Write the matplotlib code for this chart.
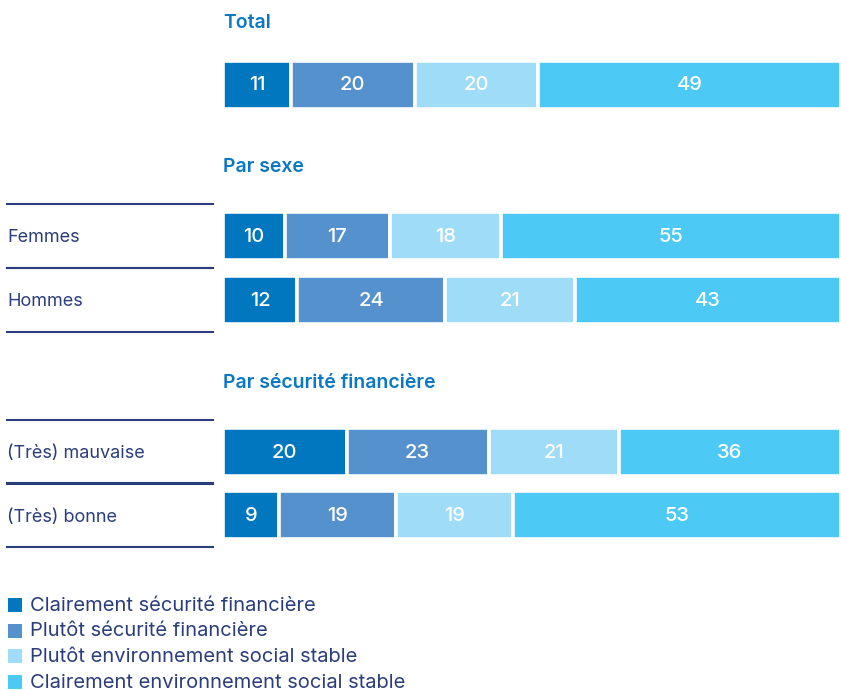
import matplotlib.pyplot as plt
from matplotlib.lines import Line2D
from matplotlib.patches import Rectangle

plt.rcParams['font.family'] = ['Inter', 'DejaVu Sans']

W, H = 841, 690

categories = ['Total', 'Femmes', 'Hommes', '(Très) mauvaise', '(Très) bonne']
series_names = ['Clairement sécurité financière', 'Plutôt sécurité financière',
                'Plutôt environnement social stable', 'Clairement environnement social stable']
values = [
    [11, 20, 20, 49],
    [10, 17, 18, 55],
    [12, 24, 21, 43],
    [20, 23, 21, 36],
    [9, 19, 19, 53],
]
section_titles = ['Total', 'Par sexe', 'Par sécurité financière']

colors = ['#0077be', '#5591cc', '#9fdcf7', '#4cc9f4']
title_color = '#0a78c2'
text_color = '#2b3e7c'

# layout (pixels from top)
row_y = [84.5, 236, 300, 452, 515]
bar_h = 48
title_y = [23, 167, 383]
show_label = [False, True, True, True, True]

fig = plt.figure(figsize=(W / 100, H / 100), dpi=100)
ax = fig.add_axes([223 / W, 0, 618 / W, 1])
ax.set_xlim(0, 100)
ax.set_ylim(H, 0)
ax.axis('off')

for i, row in enumerate(values):
    left = 0
    for j, v in enumerate(row):
        ax.barh(row_y[i], v, left=left, height=bar_h, color=colors[j],
                edgecolor='white', linewidth=2.6)
        ax.text(left + v / 2, row_y[i] + 1, str(v), ha='center', va='center',
                color='white', fontsize=14.5, fontweight='medium')
        left += v


def fx(x):
    return x / W


def fy(y):
    return 1 - y / H


for t, y in zip(section_titles, title_y):
    fig.text(fx(223), fy(y), t, color=title_color, fontsize=14,
             fontweight='semibold', va='center', ha='left')

for i, name in enumerate(categories):
    if not show_label[i]:
        continue
    fig.text(fx(7), fy(row_y[i] + 2), name, color=text_color, fontsize=13,
             va='center', ha='left')
    for yy in (row_y[i] - 32, row_y[i] + 32):
        fig.add_artist(Line2D([fx(7), fx(213)], [fy(yy), fy(yy)],
                              color=text_color, linewidth=1.5))

# legend
for k, name in enumerate(series_names):
    y = 605 + k * 25.5
    fig.add_artist(Rectangle((fx(8), fy(y + 7)), 14 / W, 14 / H,
                             facecolor=colors[k], edgecolor='none'))
    fig.text(fx(30), fy(y + 1), name, color=text_color, fontsize=14.5,
             va='center', ha='left')

fig.savefig('out.png', dpi=100)
